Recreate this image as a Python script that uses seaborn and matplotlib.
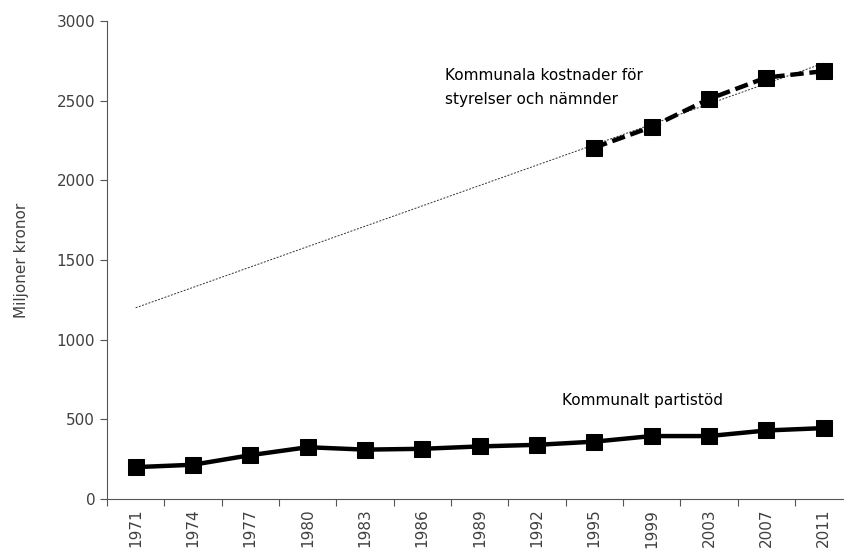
import pandas as pd
import matplotlib
matplotlib.use("Agg")
import matplotlib.pyplot as plt
import seaborn as sns

# data (miljoner kronor)
years = ['1971', '1974', '1977', '1980', '1983', '1986', '1989',
         '1992', '1995', '1999', '2003', '2007', '2011']
partistod = [200, 215, 275, 325, 310, 315, 330, 340, 360, 395, 395, 430, 445]

kostnad_years = ['1995', '1999', '2003', '2007', '2011']
kostnad = [2205, 2335, 2510, 2645, 2685]

# thin linear trend line for kostnader
trend_years = ['1971', '2011']
trend_values = [1200, 2735]

sns.set_theme(style="white")
plt.rcParams['font.family'] = ['DejaVu Sans']
text_col = '#404040'

df_p = pd.DataFrame({'year': years, 'value': partistod})
df_k = pd.DataFrame({'year': kostnad_years, 'value': kostnad})
df_t = pd.DataFrame({'year': trend_years, 'value': trend_values})

fig = plt.figure(figsize=(8.45, 5.52), dpi=100)
ax = fig.add_axes([0.1266, 0.096, 0.882, 0.866])

# register category order first
ax.plot(years, [None] * len(years), alpha=0)

sns.lineplot(data=df_t, x='year', y='value', ax=ax, sort=False,
             color='#333333', linewidth=0.7, linestyle=(0, (2, 1.5)))
sns.lineplot(data=df_p, x='year', y='value', ax=ax, sort=False,
             color='black', linewidth=3.2, marker='s', markersize=11,
             markeredgecolor='black')
sns.lineplot(data=df_k, x='year', y='value', ax=ax, sort=False,
             color='black', linewidth=3.2, linestyle=(0, (3, 1.3)),
             marker='s', markersize=11, markeredgecolor='black')

n = len(years)
ax.set_xlim(-0.5, n - 0.5)
ax.set_ylim(0, 3000)
ax.set_yticks(range(0, 3001, 500))
ax.set_xticks(range(n))
ax.set_xticklabels(years, rotation=90, fontsize=11, color=text_col)
ax.tick_params(axis='y', labelsize=11, labelcolor=text_col)
ax.set_xticks([i - 0.5 for i in range(n + 1)], minor=True)
ax.tick_params(axis='x', which='major', length=0, pad=7)
ax.tick_params(axis='x', which='minor', length=5, direction='out',
               color='#555555', width=0.8, bottom=True)
ax.tick_params(axis='y', length=5, direction='out', color='#555555',
               width=0.8, left=True)

ax.set_xlabel('')
ax.set_ylabel('Miljoner kronor', fontsize=11, color=text_col, labelpad=20)

for side in ['top', 'right']:
    ax.spines[side].set_visible(False)
for side in ['left', 'bottom']:
    ax.spines[side].set_color('#555555')
    ax.spines[side].set_linewidth(0.8)

ax.text(5.4, 2480, 'Kommunala kostnader för\nstyrelser och nämnder',
        fontsize=11, color='black', linespacing=1.7)
ax.text(7.43, 590, 'Kommunalt partistöd', fontsize=11, color='black')

fig.savefig('out.png', dpi=100)
